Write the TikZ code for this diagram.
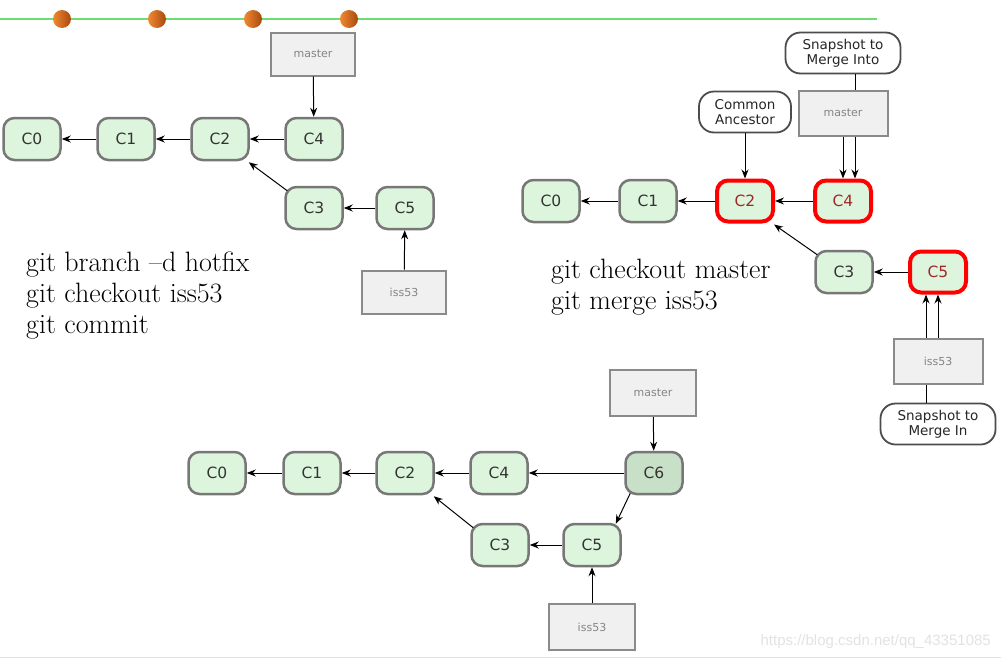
\documentclass[tikz,border=0pt]{standalone}
\usepackage{fontspec}
\newfontfamily\nodefont{DejaVu Sans}
\newfontfamily\wmfont{Liberation Sans}
\usetikzlibrary{arrows.meta}
\definecolor{cfill}{HTML}{DDF5DD}
\definecolor{cfilldark}{HTML}{C8E0C8}
\definecolor{cborder}{HTML}{777777}
\definecolor{rfill}{HTML}{F0F0F0}
\definecolor{rborder}{HTML}{8A8A8A}
\definecolor{rtext}{HTML}{858585}
\definecolor{ctext}{HTML}{333333}
\definecolor{redtext}{HTML}{A02828}
\definecolor{linegreen}{HTML}{6EDC6E}
\definecolor{dotlight}{HTML}{F08A30}
\definecolor{dotdark}{HTML}{A84810}
\definecolor{wm}{HTML}{E2E2E2}
\begin{document}
\begin{tikzpicture}[x=1pt,y=-1pt,
  commit/.style={draw=cborder, line width=2.5pt, fill=cfill, rounded corners=11pt,
    minimum width=57pt, minimum height=42pt, inner sep=0pt,
    font=\nodefont\fontsize{15.5}{15.5}\selectfont, text=ctext},
  redcommit/.style={commit, draw=red, line width=4pt, minimum width=56pt, minimum height=41pt, text=redtext},
  refbox/.style={draw=rborder, line width=2pt, fill=rfill, minimum width=84pt, minimum height=43pt,
    inner sep=0pt, font=\nodefont\fontsize{11}{11}\selectfont, text=rtext},
  notebox/.style={draw=black!70, line width=1.8pt, fill=white, rounded corners=15pt,
    minimum width=115pt, minimum height=41pt, inner sep=0pt, align=center,
    font=\nodefont\fontsize{13.5}{15}\selectfont, text=black!85},
  cmd/.style={anchor=base west, inner sep=0pt, font=\fontsize{28}{28}\selectfont},
  arr/.style={-{Stealth[length=9pt,width=7pt]}, line width=1pt},
  dot/.style={circle, minimum size=18pt, inner sep=0pt, left color=dotlight, right color=dotdark}
]
\useasboundingbox (0,0) rectangle (1001,659);

% top timeline
\coordinate (tl0) at (0,19);
\coordinate (tl1) at (877,19);
\draw[linegreen, line width=1.5pt] (tl0) -- (tl1);
\node[dot] (d1) at (62,19) {};
\node[dot] (d2) at (157,19) {};
\node[dot] (d3) at (253,19) {};
\node[dot] (d4) at (349,19) {};

% ---------- diagram 1 ----------
\node[refbox] (m1) at (313,54) {master};
\node[commit] (a0) at (32,139) {C0};
\node[commit] (a1) at (126,139) {C1};
\node[commit] (a2) at (220,139) {C2};
\node[commit] (a4) at (314,139) {C4};
\node[commit] (a3) at (314,208) {C3};
\node[commit] (a5) at (405,208) {C5};
\node[refbox] (i1) at (404,292) {iss53};
\draw[arr] (m1) -- (a4);
\draw[arr] (a1) -- (a0);
\draw[arr] (a2) -- (a1);
\draw[arr] (a4) -- (a2);
\draw[arr] (a5) -- (a3);
\draw[arr] ([xshift=3pt,yshift=-5pt]a3.north west) -- ([xshift=-1pt,yshift=-1pt]a2.south east);
\draw[arr] (i1) -- (a5);
\node[cmd] (t1) at (26,271) {git branch –d hotfix};
\node[cmd] (t2) at (26,302) {git checkout iss53};
\node[cmd] (t3) at (26,333) {git commit};

% ---------- diagram 2 ----------
\node[commit] (b0) at (551,201) {C0};
\node[commit] (b1) at (648,201) {C1};
\node[redcommit] (b2) at (745,201) {C2};
\node[redcommit] (b4) at (843,201) {C4};
\node[commit] (b3) at (844,272) {C3};
\node[redcommit] (b5) at (938,272) {C5};
\node[notebox, minimum width=92pt] (ca) at (745,112) {Common\\Ancestor};
\node[notebox] (si) at (843,53) {Snapshot to\\Merge Into};
\node[refbox, minimum width=89pt, minimum height=45pt] (m2) at (843,113) {master};
\node[refbox, minimum width=89pt, minimum height=45pt] (i2) at (938,361) {iss53};
\node[notebox] (sm) at (938,424) {Snapshot to\\Merge In};
\draw[arr] (b1) -- (b0);
\draw[arr] (b2) -- (b1);
\draw[arr] (b4) -- (b2);
\draw[arr] (b5) -- (b3);
\draw[arr] ([xshift=3pt,yshift=-5pt]b3.north west) -- ([xshift=-1pt,yshift=-1pt]b2.south east);
\draw[arr] (ca) -- (b2);
\draw[line width=1pt] ([xshift=12pt]si.south) -- ([xshift=12pt]m2.north);
\draw[arr] (m2.south) -- (b4.north);
\draw[arr] ([xshift=12pt]m2.south) -- ([xshift=12pt]b4.north);
\draw[arr] ([xshift=-12pt]i2.north) -- ([xshift=-12pt]b5.south);
\draw[arr] (i2.north) -- (b5.south);
\draw[line width=1pt] ([xshift=-12pt]i2.south) -- ([xshift=-12pt]sm.north);
\node[cmd] (u1) at (551,278) {git checkout master};
\node[cmd] (u2) at (551,309) {git merge iss53};

% ---------- diagram 3 ----------
\node[refbox, minimum width=86pt, minimum height=46pt] (m3) at (653,393) {master};
\node[commit] (c0) at (217,473) {C0};
\node[commit] (c1) at (312,473) {C1};
\node[commit] (c2) at (405,473) {C2};
\node[commit] (c4) at (499,473) {C4};
\node[commit, fill=cfilldark] (c6) at (654,473) {C6};
\node[commit] (c3) at (500,545) {C3};
\node[commit] (c5) at (592,545) {C5};
\node[refbox, minimum width=86pt, minimum height=46pt] (i3) at (592,627) {iss53};
\draw[arr] (m3) -- (c6);
\draw[arr] (c1) -- (c0);
\draw[arr] (c2) -- (c1);
\draw[arr] (c4) -- (c2);
\draw[arr] (c6) -- (c4);
\draw[arr] (c5) -- (c3);
\draw[arr] ([xshift=3pt,yshift=-5pt]c3.north west) -- ([xshift=-1pt,yshift=-1pt]c2.south east);
\draw[arr] ([xshift=6pt,yshift=2pt]c6.south west) -- ([xshift=-6pt,yshift=-1pt]c5.north east);
\draw[arr] (i3) -- (c5);

% watermark and bottom rule
\node[anchor=base east, inner sep=0pt, text=wm, font=\wmfont\fontsize{15}{15}\selectfont] (wmk) at (991,645) {https://blog.csdn.net/qq\_43351085};
\coordinate (bl0) at (0,657.5);
\coordinate (bl1) at (1001,657.5);
\draw[black!12, line width=1.5pt] (bl0) -- (bl1);
\end{tikzpicture}
\end{document}
